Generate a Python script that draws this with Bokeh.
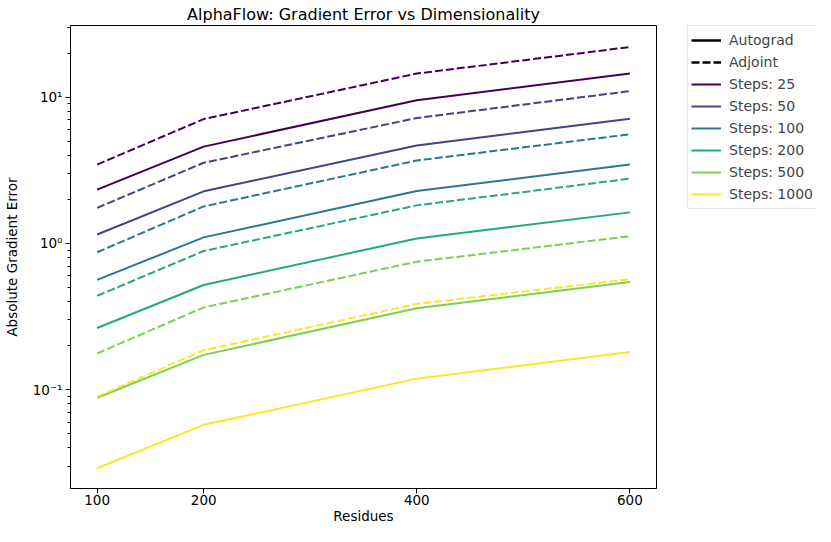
from bokeh.plotting import figure
from bokeh.layouts import row
from bokeh.models import (Range1d, FixedTicker, CustomJSTickFormatter, Legend, LegendItem,
                          ColumnDataSource)
from bokeh.embed import file_html
from bokeh.resources import INLINE

# ---- data ----
residues = [100, 200, 400, 600]
steps_labels = ["Steps: 25", "Steps: 50", "Steps: 100", "Steps: 200", "Steps: 500", "Steps: 1000"]

autograd_25 = [2.33, 4.59, 9.54, 14.5]
autograd_50 = [1.15, 2.27, 4.67, 7.12]
autograd_100 = [0.563, 1.10, 2.28, 3.46]
autograd_200 = [0.264, 0.52, 1.08, 1.63]
autograd_500 = [0.088, 0.173, 0.36, 0.545]
autograd_1000 = [0.029, 0.0575, 0.119, 0.181]

adjoint_25 = [3.46, 7.08, 14.5, 22.0]
adjoint_50 = [1.75, 3.56, 7.2, 11.0]
adjoint_100 = [0.87, 1.79, 3.69, 5.57]
adjoint_200 = [0.438, 0.887, 1.82, 2.77]
adjoint_500 = [0.177, 0.365, 0.75, 1.12]
adjoint_1000 = [0.0896, 0.186, 0.386, 0.569]

autograd = [autograd_25, autograd_50, autograd_100, autograd_200, autograd_500, autograd_1000]
adjoint = [adjoint_25, adjoint_50, adjoint_100, adjoint_200, adjoint_500, adjoint_1000]

colors = ["#440154", "#414487", "#2a788e", "#22a884", "#7ad151", "#fde725"]

y_major = [0.1, 1, 10]
y_minor = [m * 10.0 ** e for e in (-2, -1, 0, 1) for m in range(2, 10)]

FONT = "DejaVu Sans"

# ---- main plot ----
p = figure(width=687, height=526, output_backend="svg", toolbar_location=None,
           y_axis_type="log",
           x_range=Range1d(75, 625), y_range=Range1d(0.0211, 30.9),
           title="AlphaFlow: Gradient Error vs Dimensionality",
           min_border_left=65, min_border_right=31, min_border_top=22, min_border_bottom=30)

p.title.align = "center"
p.title.text_font = FONT
p.title.text_font_size = "16px"
p.title.text_font_style = "normal"
p.title.text_color = "black"
p.title.standoff = 4

p.grid.visible = False
p.outline_line_color = "black"
p.outline_line_width = 1
p.outline_line_alpha = 1
p.background_fill_color = "white"

p.xaxis.ticker = FixedTicker(ticks=residues, minor_ticks=[])
p.yaxis.ticker = FixedTicker(ticks=y_major, minor_ticks=y_minor)
p.yaxis.formatter = CustomJSTickFormatter(code="""
const sup = {"-": "\\u207b", "0": "\\u2070", "1": "\\u00b9", "2": "\\u00b2", "3": "\\u00b3",
             "4": "\\u2074", "5": "\\u2075", "6": "\\u2076", "7": "\\u2077", "8": "\\u2078", "9": "\\u2079"};
const e = Math.round(Math.log10(tick));
return "10" + String(e).split("").map(c => sup[c]).join("");
""")
for ax in (p.xaxis, p.yaxis):
    ax.axis_line_color = "black"
    ax.axis_line_width = 1
    ax.major_tick_line_color = "black"
    ax.minor_tick_line_color = "black"
    ax.major_tick_in = 0
    ax.major_tick_out = 5
    ax.minor_tick_in = 0
    ax.minor_tick_out = 3
    ax.major_label_text_font = FONT
    ax.major_label_text_font_size = "13.5px"
    ax.major_label_text_color = "black"
    ax.axis_label_text_font = FONT
    ax.axis_label_text_font_size = "13.5px"
    ax.axis_label_text_font_style = "normal"
    ax.axis_label_text_color = "black"

p.xaxis.major_label_standoff = 1
p.xaxis.axis_label_standoff = 0
p.yaxis.major_label_standoff = 3
p.xaxis.axis_label = "Residues"
p.yaxis.axis_label = "Absolute Gradient Error"
p.yaxis.axis_label_standoff = 10

for i in range(len(steps_labels)):
    p.line(residues, autograd[i], line_color=colors[i], line_width=2)
    p.line(residues, adjoint[i], line_color=colors[i], line_width=2, line_dash="8 3")

# ---- legend panel (separate figure to the right of the axes) ----
# its ranges are set so that the proxy lines fall outside its frame: only the legend shows
q = figure(width=128, height=526, output_backend="svg", toolbar_location=None,
           x_range=Range1d(0, 1), y_range=Range1d(0, 1),
           x_axis_location=None, y_axis_location=None,
           min_border_left=0, min_border_right=0, min_border_top=0, min_border_bottom=0)
q.grid.visible = False
q.outline_line_color = None
q.background_fill_color = "white"

def proxy(ys, color, dash="solid", width=2.0):
    src = ColumnDataSource(dict(x=residues, y=ys))
    return q.line("x", "y", source=src, line_color=color, line_width=width, line_dash=dash)

items = [LegendItem(label="Autograd", renderers=[proxy(autograd_25, "black", "solid", 2.5)]),
         LegendItem(label="Adjoint", renderers=[proxy(adjoint_25, "black", "8 3", 2.5)])]
for i, lab in enumerate(steps_labels):
    items.append(LegendItem(label=lab, renderers=[proxy(autograd[i], colors[i])]))

legend = Legend(items=items, location="top_left")
legend.margin = 0
legend.padding = 3
legend.spacing = 0
legend.glyph_height = 22
legend.label_height = 22
legend.glyph_width = 30
legend.label_width = 100
legend.label_standoff = 8
legend.label_text_font = FONT
legend.label_text_font_size = "14px"
legend.border_line_color = "#cccccc"
legend.border_line_width = 1
legend.background_fill_alpha = 0.8
q.add_layout(legend)

layout = row(p, q)
open("out.html", "w", encoding="utf-8").write(file_html(layout, INLINE))
